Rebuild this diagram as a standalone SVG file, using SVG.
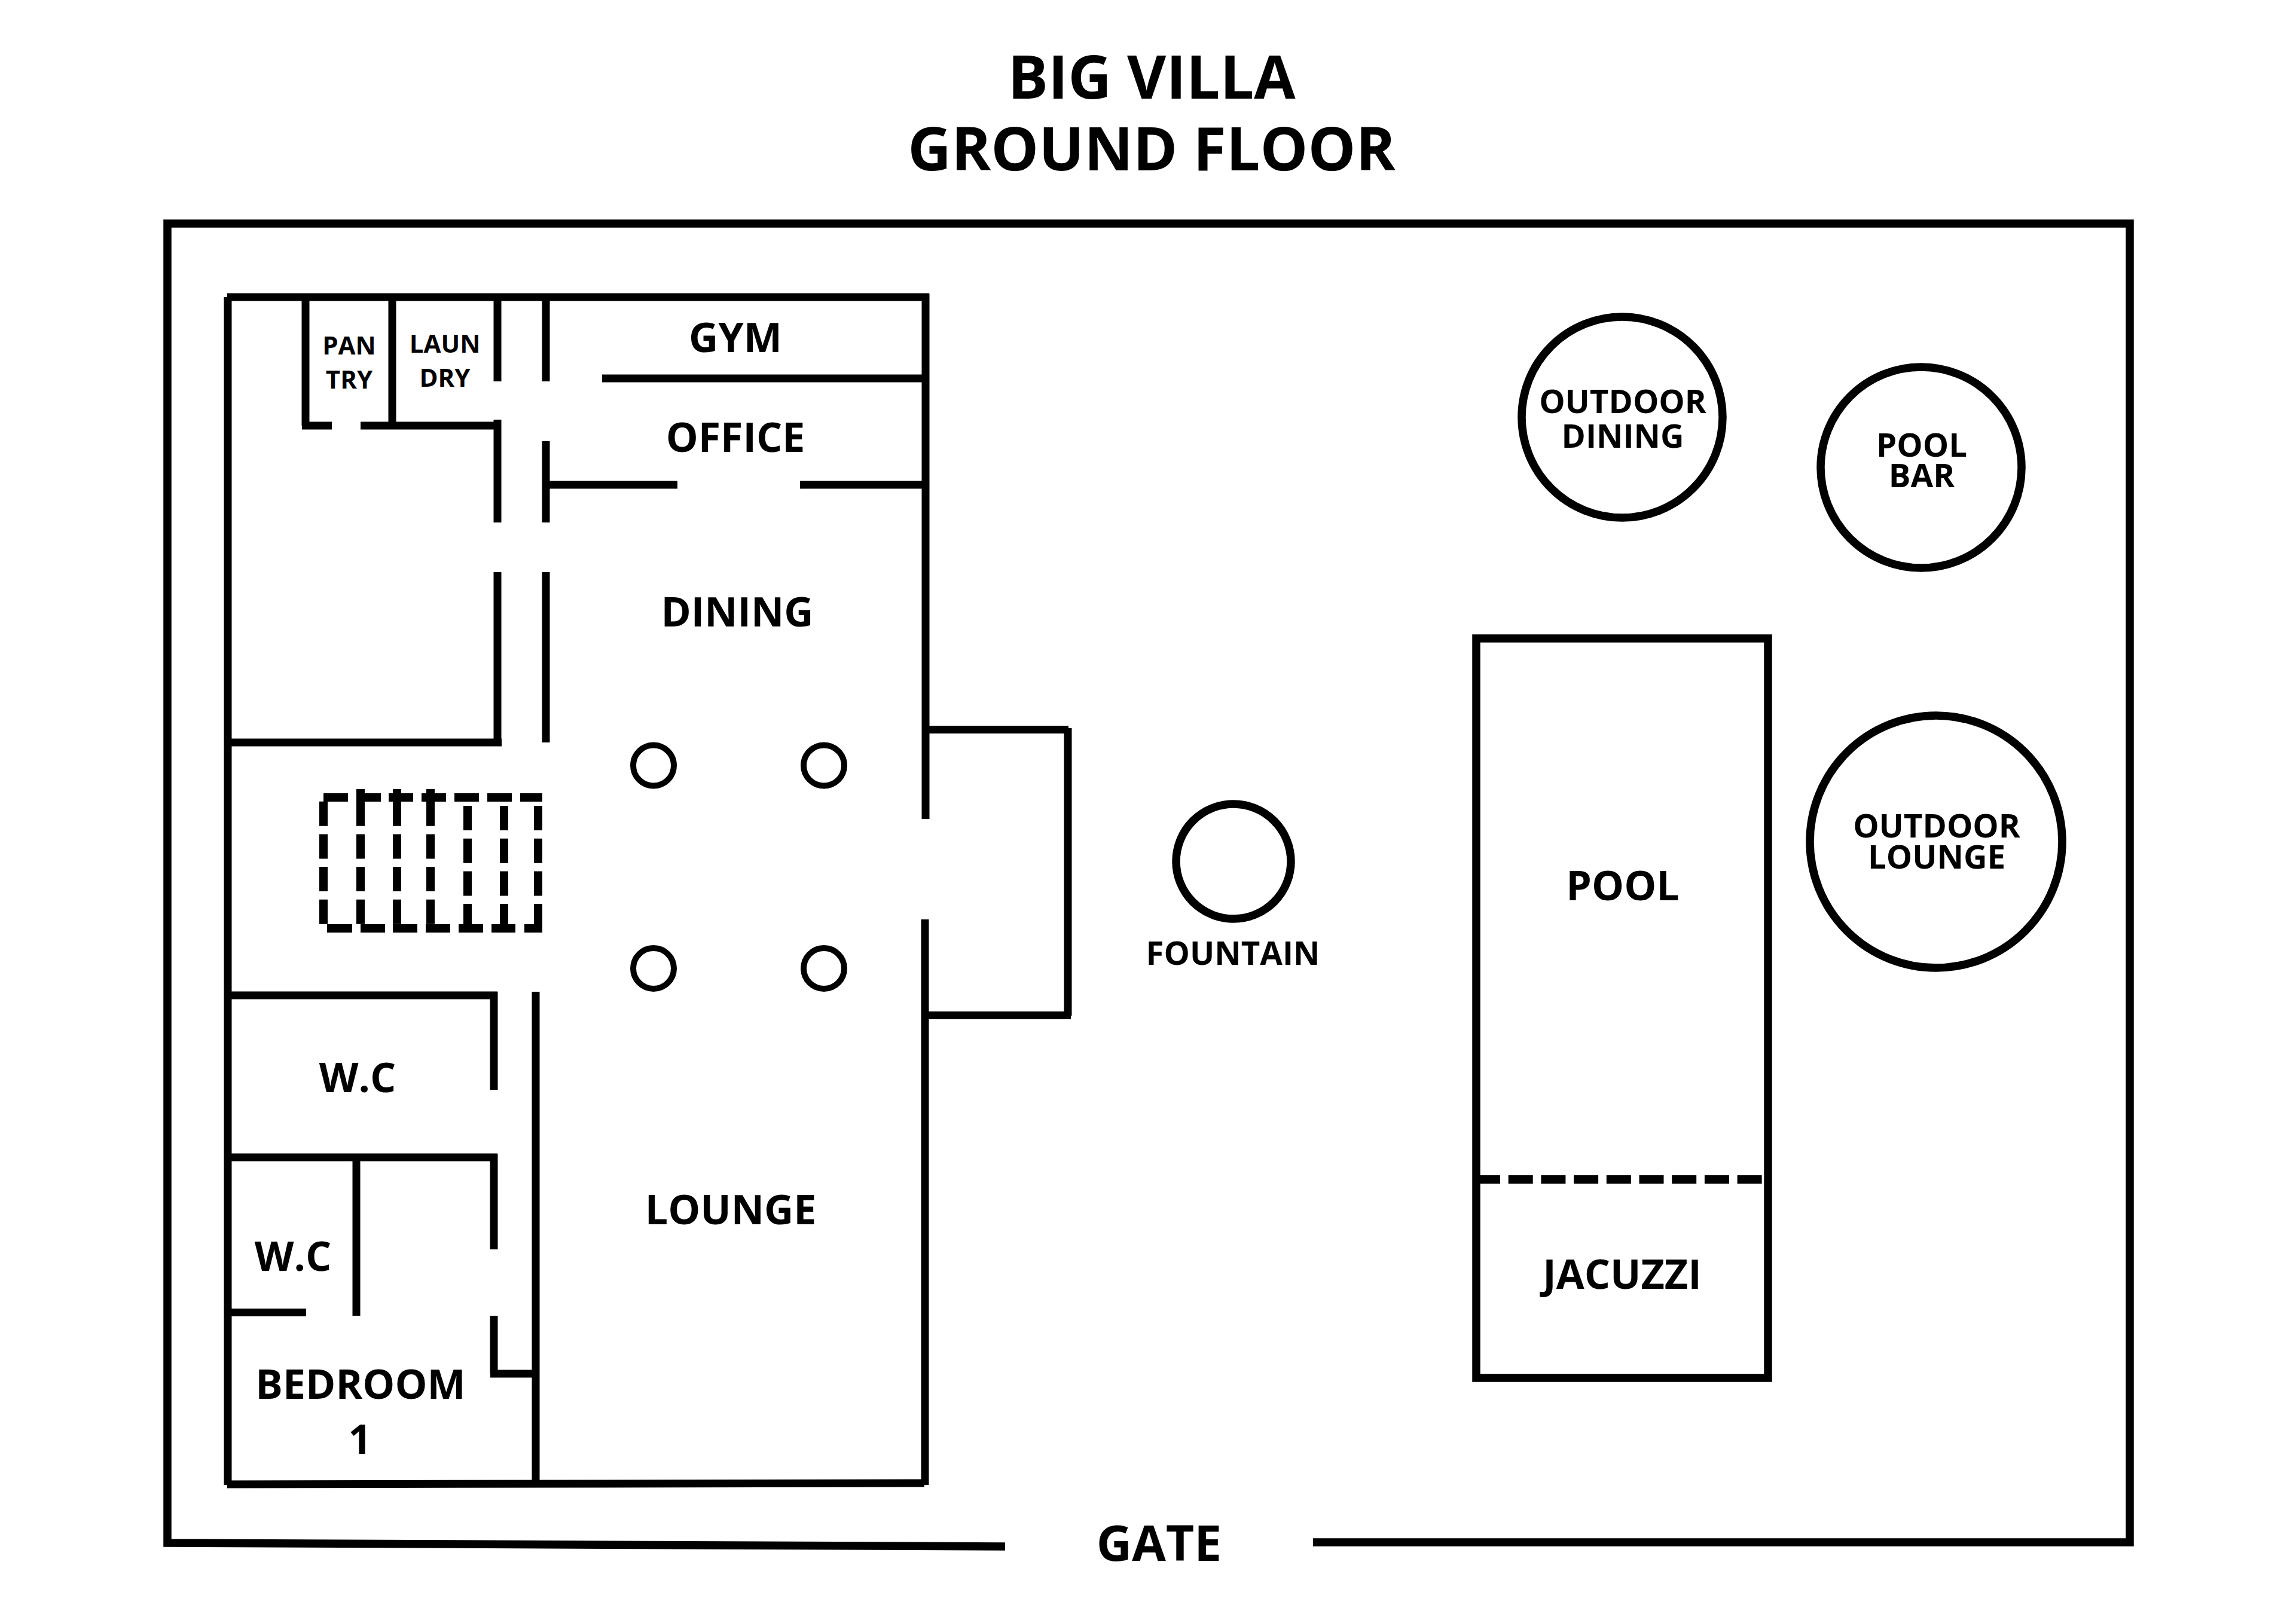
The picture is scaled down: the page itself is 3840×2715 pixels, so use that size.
<svg xmlns="http://www.w3.org/2000/svg" width="3840" height="2715" viewBox="0 0 3840 2715">
<style>
.w{stroke:#000;stroke-width:13;fill:none;stroke-linecap:butt}
.o{stroke:#000;stroke-width:13.5;fill:none}
.k{stroke:#000;stroke-width:14;fill:none;stroke-dasharray:41 13.7}
.h{stroke:#000;stroke-width:14;fill:none}
.c{stroke:#000;stroke-width:10;fill:none}
text{font-family:"Open Sans","Noto Sans",sans-serif;font-weight:700;fill:#000;text-anchor:middle}
.t{font-size:100.5px}.l{font-size:68px}.s{font-size:42px}.m{font-size:54.6px}.g{font-size:82px}
</style>
<rect width="3840" height="2715" fill="#fff"/>
<g id="site">
<path class="o" d="M1681 2587L280 2581V374H3562V2580H2196"/>
</g>
<g id="walls">
<path class="w" d="M381 497V2484M380 497H1554M1548 491V1370M1547 1538V2484M380 2483L1546 2481"/>
<path class="w" d="M511 503V712M656 503V712M505 712H555M603 712H832M832 503V638M913 503V638M832 702V874M913 738V874M832 957V1248M913 957V1242M381 1242H839"/>
<path class="w" d="M1007 633H1548M907 811H1133M1338 811H1548"/>
<path class="w" d="M1547 1220.5H1787M1786 1218V1699M1547 1698.5H1791"/>
<path class="w" d="M381 1665H832M826 1659V1823M896 1659V2481M381 1936H832M826 1930V2090M826 2201V2298M820 2298H896M596 1936V2201M381 2195.5H512"/>
</g>
<g id="stairs">
<path class="k" d="M541 1340.7V1546"/>
<path class="k" stroke-dashoffset="34" d="M603 1320V1546M664 1320V1546M720 1320V1546"/>
<path class="k" d="M782 1348V1546M843 1348V1546M900 1348V1546"/>
<path class="h" d="M541 1334H582M596 1334H637M650 1334H691M705 1334H746M760 1334H801M815 1334H856M870 1334H907M547 1553H589M603 1553H644M657 1553H698M712 1553H753M767 1553H808M822 1553H862M877 1553H907"/>
</g>
<g id="columns">
<circle class="c" cx="1093" cy="1280.5" r="34"/>
<circle class="c" cx="1378" cy="1280.5" r="34"/>
<circle class="c" cx="1093" cy="1620" r="34"/>
<circle class="c" cx="1378" cy="1620" r="34"/>
</g>
<g id="fountain"><circle class="o" cx="2063" cy="1441" r="96"/><text class="m" x="2062" y="1614">FOUNTAIN</text></g>
<g id="pool-area">
<rect class="o" x="2469" y="1068" width="488" height="1237"/>
<path class="h" stroke-dasharray="41 13.7" d="M2468 1973H2950"/>
<text class="l" x="2714" y="1506">POOL</text>
<text class="l" x="2713" y="2156">JACUZZI</text>
</g>
<g id="outdoor-dining"><circle class="o" cx="2713" cy="698" r="168"/><text class="m" x="2714" y="691">OUTDOOR</text><text class="m" x="2714" y="749">DINING</text></g>
<g id="pool-bar"><circle class="o" cx="3213" cy="782" r="168"/><text class="m" x="3214" y="764">POOL</text><text class="m" x="3214" y="815">BAR</text></g>
<g id="outdoor-lounge"><circle class="o" cx="3238" cy="1408" r="211"/><text class="m" x="3239" y="1401">OUTDOOR</text><text class="m" x="3239" y="1453">LOUNGE</text></g>
<g id="labels">
<text class="t" x="1926" y="164.5">BIG VILLA</text>
<text class="t" x="1926" y="284.5">GROUND FLOOR</text>
<text class="l" x="1230" y="589">GYM</text>
<text class="l" x="1230" y="756">OFFICE</text>
<text class="l" x="1233" y="1048">DINING</text>
<text class="s" x="584" y="593">PAN</text>
<text class="s" x="584" y="650">TRY</text>
<text class="s" x="744" y="590">LAUN</text>
<text class="s" x="744" y="647">DRY</text>
<text class="l" x="598" y="1827">W.C</text>
<text class="l" x="490" y="2126">W.C</text>
<text class="l" x="603" y="2340">BEDROOM</text>
<text class="l" x="602" y="2432">1</text>
<text class="l" x="1222" y="2048">LOUNGE</text>
<text class="g" x="1938.5" y="2611">GATE</text>
</g>
</svg>
